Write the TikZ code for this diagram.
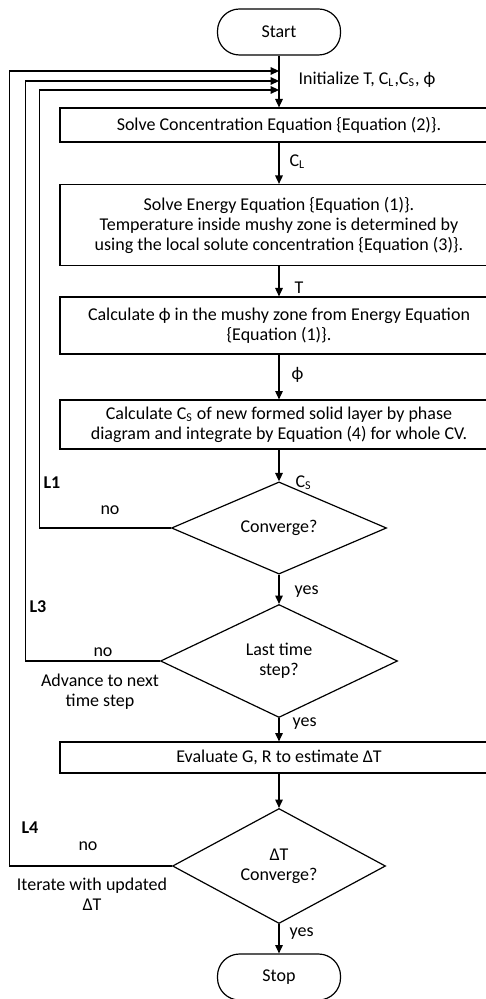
\documentclass[tikz,border=0pt]{standalone}
\usepackage{fontspec}
\setmainfont{Carlito}
\usetikzlibrary{shapes.geometric,arrows.meta}

\begin{document}
\begin{tikzpicture}[x=0.5pt,y=-0.5pt,line width=0.6pt,
    font=\fontsize{9}{10}\selectfont,
    >={Triangle[length=4.2pt,width=3.8pt]},
    box/.style={draw,minimum width=219pt,align=center,inner sep=2pt},
    term/.style={draw,rounded corners=11pt,minimum width=61.5pt,minimum height=23pt},
    dec/.style={draw,diamond,align=center,inner sep=0pt},
    lab/.style={inner sep=1pt}]
    \useasboundingbox (0,0) rectangle (486,999);

    \node[term] (start) at (279,32) {Start};
    \node[box,minimum height=17pt] (conc) at (279,125) {Solve Concentration Equation \{Equation (2)\}.};
    \node[box,minimum height=40.5pt] (energy) at (279,225) {Solve Energy Equation \{Equation (1)\}.\\ Temperature inside mushy zone is determined by\\ using the local solute concentration \{Equation (3)\}.};
    \node[box,minimum height=28.5pt] (phase) at (279,325.5) {Calculate ϕ in the mushy zone from Energy Equation\\ \{Equation (1)\}.};
    \node[box,minimum height=24.5pt] (solid) at (279,424.5) {Calculate C\textsubscript{S} of new formed solid layer by phase\\ diagram and integrate by Equation (4) for whole CV.};
    \node[dec,minimum width=107.5pt,minimum height=35.5pt] (conv) at (279,528) {Converge?};
    \node[dec,minimum width=118.5pt,minimum height=56.5pt] (last) at (279,661) {Last time\\ step?};
    \node[box,minimum height=15.5pt] (eval) at (279,757.5) {Evaluate G, R to estimate ΔT};
    \node[dec,minimum width=106.5pt,minimum height=57.5pt] (dtconv) at (279,866) {ΔT\\ Converge?};
    \node[term] (stop) at (279,977) {Stop};

    \coordinate (in4) at (279,71);
    \coordinate (in3) at (279,81);
    \coordinate (in1) at (279,90);

    \draw[->] (start) -- (conc);
    \draw[->] (conc) -- (energy);
    \draw[->] (energy) -- (phase);
    \draw[->] (phase) -- (solid);
    \draw[->] (solid) -- (conv);
    \draw[->] (conv) -- (last);
    \draw[->] (last) -- (eval);
    \draw[->] (eval) -- (dtconv);
    \draw[->] (dtconv) -- (stop);

    % feedback loops
    \draw[->] (conv.west) -- ++(-131.5,0) |- (in1);
    \draw[->] (last.west) -- ++(-134.5,0) |- (in3);
    \draw[->] (dtconv.west) -- ++(-162.5,0) |- (in4);

    \node[lab,anchor=west] (initlab) at (296,80) {Initialize T, C\textsubscript{L},C\textsubscript{S}, ϕ};
    \node[lab,anchor=west] (cllab) at (287,162) {C\textsubscript{L}};
    \node[lab,anchor=west] (tlab) at (292,288) {T};
    \node[lab,anchor=west] (philab) at (289,375) {ϕ};
    \node[lab,anchor=west] (cslab) at (293,483) {C\textsubscript{S}};
    \node[lab,anchor=west] (yes1) at (292,592) {yes};
    \node[lab,anchor=west] (yes2) at (290,724) {yes};
    \node[lab,anchor=west] (yes3) at (287,934) {yes};

    \node[lab] (no1) at (110,510) {no};
    \node[lab] (no2) at (103,652) {no};
    \node[lab] (no3) at (88,846) {no};
    \node[lab,align=center] (advlab) at (100,692) {Advance to next\\ time step};
    \node[lab,align=center] (itlab) at (92,894) {Iterate with updated\\ ΔT};

    \node[lab,anchor=west,font=\fontsize{9}{10}\selectfont\bfseries] (l1) at (41,483) {L1};
    \node[lab,anchor=west,font=\fontsize{9}{10}\selectfont\bfseries] (l3) at (27,607) {L3};
    \node[lab,anchor=west,font=\fontsize{9}{10}\selectfont\bfseries] (l4) at (19,828) {L4};
\end{tikzpicture}
\end{document}
